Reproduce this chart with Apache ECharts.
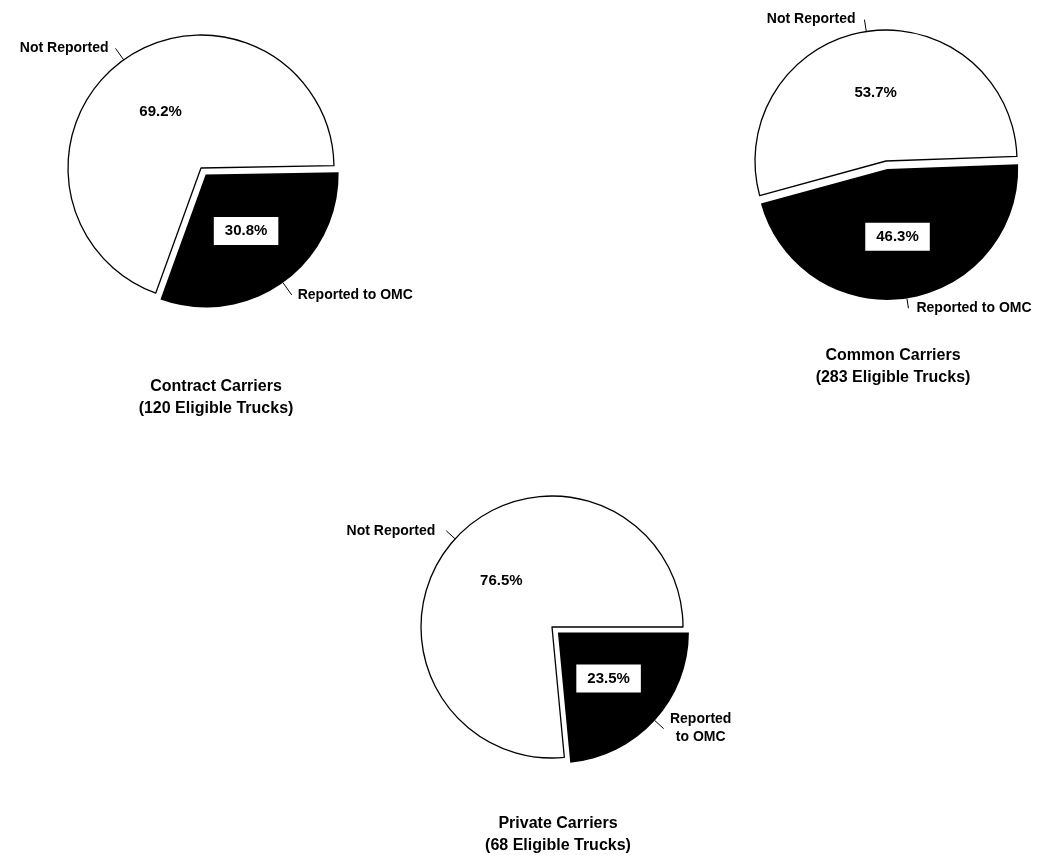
<!DOCTYPE html>
<html>
<head>
<meta charset="utf-8">
<title>Trucks Reported to OMC by Carrier Type</title>
<script src="https://cdn.jsdelivr.net/npm/echarts@6/dist/echarts.min.js"></script>
<style>
  html, body { margin: 0; padding: 0; background: #fff; }
  #chart { width: 1048px; height: 855px; }
</style>
</head>
<body>
<div id="chart"></div>
<script>
// Share of eligible trucks reported to OMC, by carrier type (percent)
const categories = ['Reported to OMC', 'Not Reported'];
const carrierTypes = ['Contract Carriers', 'Common Carriers', 'Private Carriers'];
const eligibleTrucks = [120, 283, 68];
const reportedPct = [30.8, 46.3, 23.5];
const notReportedPct = [69.2, 53.7, 76.5];

const FONT = '"Liberation Sans", Arial, Helvetica, sans-serif';

// Per-pie placement
const pieLayout = [
  { center: [201, 168], radius: 133, startAngle: 1,
    outLen: [15, 14], outGap: [6, 7], titleX: 211, titleY: 371, wrapReported: false },
  { center: [886, 161], radius: 131, startAngle: 2,
    outLen: [10, 12], outGap: [8, 9], titleX: 888, titleY: 340, wrapReported: false },
  { center: [552, 627], radius: 131, startAngle: 0,
    outLen: [12, 12], outGap: [6, 11], titleX: 553, titleY: 808, wrapReported: true }
];

const OFFSET = 8;
const TRANSPARENT = 'rgba(0,0,0,0)';

function sliceData(i) {
  const values = [reportedPct[i], notReportedPct[i]];
  return categories.map((name, k) => {
    const dark = k === 0;
    return {
      name: name,
      value: values[k],
      selected: dark,
      itemStyle: {
        color: dark ? '#000' : '#fff',
        borderColor: '#000',
        borderWidth: dark ? 0 : 1.3
      },
      select: { itemStyle: { color: dark ? '#000' : '#fff' } },
      label: dark ? {
        backgroundColor: '#fff',
        padding: [7, 11, 6, 11]
      } : {}
    };
  });
}

function outsideData(i, L) {
  const values = [reportedPct[i], notReportedPct[i]];
  return categories.map((name, k) => ({
    name: name,
    value: values[k],
    selected: k === 0,
    itemStyle: { color: TRANSPARENT, borderWidth: 0 },
    select: { itemStyle: { color: TRANSPARENT, borderWidth: 0 } },
    label: { distanceToLabelLine: L.outGap[k] },
    labelLine: { length: L.outLen[k], length2: 0 }
  }));
}

const series = [];
const titles = [];

pieLayout.forEach((L, i) => {
  const common = {
    type: 'pie',
    center: L.center,
    radius: L.radius,
    startAngle: L.startAngle,
    clockwise: true,
    selectedMode: 'multiple',
    selectedOffset: OFFSET,
    avoidLabelOverlap: false,
    animation: false,
    silent: true,
    emphasis: { disabled: true }
  };

  // Slices with percentage labels inside
  series.push(Object.assign({}, common, {
    z: 2,
    label: {
      show: true,
      position: 'inside',
      formatter: p => p.value.toFixed(1) + '%',
      color: '#000',
      fontFamily: FONT,
      fontWeight: 'bold',
      fontSize: 15
    },
    labelLine: { show: false },
    data: sliceData(i)
  }));

  // Category names outside, with short leader lines
  series.push(Object.assign({}, common, {
    z: 1,
    label: {
      show: true,
      position: 'outside',
      color: '#000',
      fontFamily: FONT,
      fontWeight: 'bold',
      fontSize: 14,
      formatter: p => (L.wrapReported && p.dataIndex === 0)
        ? '{c|Reported}\n{c|to OMC}'
        : p.name,
      rich: {
        c: { width: 62, align: 'center', fontFamily: FONT, fontWeight: 'bold',
             fontSize: 14, lineHeight: 18, color: '#000' }
      }
    },
    labelLine: {
      show: true,
      smooth: false,
      lineStyle: { color: '#000', width: 1 }
    },
    data: outsideData(i, L)
  }));

  titles.push({
    text: carrierTypes[i] + '\n(' + eligibleTrucks[i] + ' Eligible Trucks)',
    left: L.titleX,
    top: L.titleY,
    textAlign: 'center',
    textStyle: {
      fontFamily: FONT,
      fontWeight: 'bold',
      fontSize: 16,
      lineHeight: 22,
      color: '#000'
    }
  });
});

const chart = echarts.init(document.getElementById('chart'), null, { renderer: 'canvas' });
chart.setOption({
  backgroundColor: '#fff',
  animation: false,
  title: titles,
  series: series
});
</script>
</body>
</html>
